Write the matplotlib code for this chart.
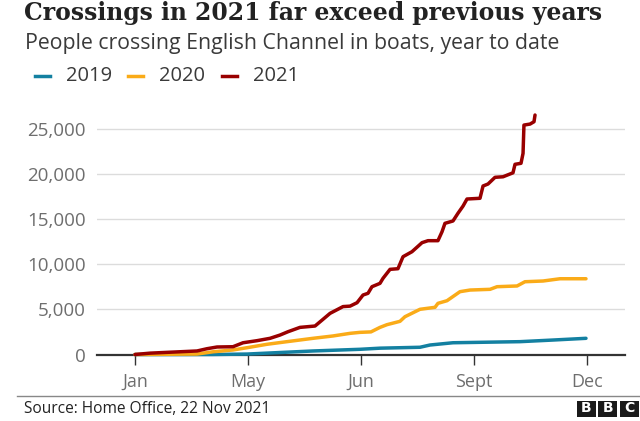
import matplotlib
matplotlib.use("Agg")
import matplotlib.pyplot as plt
from matplotlib.patches import Rectangle
from matplotlib.lines import Line2D

# x positions are in tick units: Jan=0, May=1, Jun=2, Sept=3, Dec=4
tick_labels = ["Jan", "May", "Jun", "Sept", "Dec"]
series_names = ["2019", "2020", "2021"]

x_2019 = [0.0, 0.690, 0.991, 1.575, 1.991, 2.168, 2.522, 2.611, 2.814, 3.407, 3.699, 3.991]
y_2019 = [0, 0, 50, 390, 575, 700, 800, 1050, 1300, 1420, 1600, 1790]

x_2020 = [0.0, 0.549, 0.690, 0.867, 0.991, 1.168, 1.345, 1.575, 1.752, 1.903, 1.991, 2.088,
          2.168, 2.230, 2.345, 2.389, 2.522, 2.655, 2.681, 2.761, 2.876, 2.965, 3.142,
          3.204, 3.381, 3.451, 3.611, 3.761, 3.991]
y_2020 = [0, 50, 300, 500, 750, 1130, 1420, 1790, 2050, 2340, 2450, 2500,
          3000, 3300, 3670, 4180, 5000, 5220, 5660, 5950, 6950, 7130, 7210,
          7500, 7580, 8050, 8130, 8380, 8380]

x_2021 = [0.0, 0.133, 0.549, 0.637, 0.726, 0.867, 0.956, 1.080, 1.195, 1.283, 1.354, 1.460,
          1.593, 1.655, 1.726, 1.841, 1.903, 1.965, 2.018, 2.062, 2.097, 2.168, 2.195,
          2.257, 2.327, 2.372, 2.451, 2.540, 2.593, 2.681, 2.717, 2.743, 2.814, 2.858,
          2.903, 2.938, 3.053, 3.080, 3.124, 3.186, 3.257, 3.345, 3.363, 3.416, 3.434,
          3.442, 3.496, 3.531, 3.540]
y_2021 = [0, 150, 390, 640, 830, 860, 1300, 1530, 1790, 2150, 2520, 3000,
          3150, 3800, 4550, 5300, 5350, 5730, 6580, 6770, 7500, 7870, 8430,
          9420, 9490, 10820, 11370, 12370, 12590, 12590, 13580, 14510, 14770, 15620,
          16420, 17200, 17280, 18640, 18860, 19600, 19660, 20100, 21040, 21150, 22250,
          25380, 25490, 25750, 26490]

y_ticks = [0, 5000, 10000, 15000, 20000, 25000]

colors = ["#1380A1", "#FAAB18", "#990000"]

W, H = 640, 421
fig = plt.figure(figsize=(6.4, 4.21), dpi=100)
fig.patch.set_facecolor("white")
renderer = fig.canvas.get_renderer()


def fit_text(x_px, y_px, s, width_px, size0, **kw):
    t = fig.text(x_px / W, 1 - y_px / H, s, fontsize=size0, **kw)
    w = t.get_window_extent(renderer=renderer).width
    t.set_fontsize(size0 * width_px / w)
    return t


ax_left, ax_right = 97, 625
ax_bottom_px, ax_top_px = 354.5, 110
ax = fig.add_axes([ax_left / W, (H - ax_bottom_px) / H,
                   (ax_right - ax_left) / W, (ax_bottom_px - ax_top_px) / H])

xlo = (97 - 135) / 113.0
xhi = (625 - 135) / 113.0
ax.set_xlim(xlo, xhi)
ymax = (ax_bottom_px - ax_top_px) * 5000 / 45.2
ax.set_ylim(0, ymax)

for y in y_ticks[1:]:
    ax.axhline(y, color="#dcdcdc", lw=1.0, zorder=0)

for xs, ys, c, n in zip([x_2019, x_2020, x_2021], [y_2019, y_2020, y_2021], colors, series_names):
    ax.plot(xs, ys, color=c, lw=2.5, solid_joinstyle="round", solid_capstyle="round",
            clip_on=False, zorder=3, label=n)

for s in ["top", "right", "left"]:
    ax.spines[s].set_visible(False)
ax.spines["bottom"].set_color("#333333")
ax.spines["bottom"].set_linewidth(1.6)
ax.spines["bottom"].set_zorder(2)

ax.set_xticks(range(len(tick_labels)))
ax.set_xticklabels(tick_labels)
ax.tick_params(axis="x", length=7, width=1, color="#333333", labelsize=13,
               labelcolor="#6e6e6e", pad=6)
ax.set_yticks(y_ticks)
ax.set_yticklabels([f"{v:,}" for v in y_ticks])
ax.tick_params(axis="y", length=0, labelsize=13.5, labelcolor="#6e6e6e", pad=8)
for lab in ax.get_xticklabels() + ax.get_yticklabels():
    lab.set_family("Open Sans")

fit_text(24, 20, "Crossings in 2021 far exceed previous years", 579, 20,
         fontweight="bold", family="DejaVu Serif", color="#222222",
         va="baseline", ha="left")
fit_text(25, 43, "People crossing English Channel in boats, year to date", 535, 14,
         family="Open Sans", color="#3a3a3a", va="center", ha="left")

# legend (manual, matching reference spacing)
leg_x = [35, 128, 222]
for xs0, c, n in zip(leg_x, colors, series_names):
    fig.add_artist(Line2D([xs0 / W, (xs0 + 15) / W], [1 - 76 / H, 1 - 76 / H], color=c,
                          lw=2.5, transform=fig.transFigure))
    fit_text(xs0 + 31, 76, n, 46, 15, family="Open Sans", color="#3a3a3a",
             va="center", ha="left")

fig.add_artist(Line2D([17 / W, 1.0], [1 - 396 / H, 1 - 396 / H], color="#888888", lw=1.0,
                      transform=fig.transFigure))
fit_text(24, 409, "Source: Home Office, 22 Nov 2021", 247, 11,
         family="Open Sans", color="#222222", va="center", ha="left")

for i, letter in enumerate("BBC"):
    x0 = 577 + i * 21.3
    fig.add_artist(Rectangle((x0 / W, 1 - 416.5 / H), 19 / W, 15.5 / H,
                             transform=fig.transFigure, facecolor="#1a1a1a", edgecolor="none"))
    fig.text((x0 + 9.5) / W, 1 - 408.5 / H, letter, color="white", fontsize=10,
             fontweight="bold", family="DejaVu Sans", ha="center", va="center")

fig.savefig("out.png", dpi=100, facecolor="white")
